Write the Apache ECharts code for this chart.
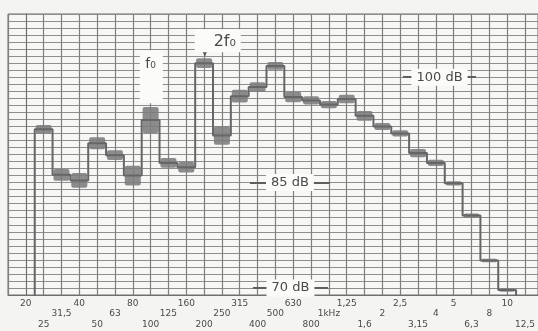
<!DOCTYPE html>
<html><head><meta charset="utf-8">
<script src="https://cdn.jsdelivr.net/npm/echarts@6/dist/echarts.min.js"></script>
<style>html,body{margin:0;padding:0;background:#f4f4f2;} #c{width:538px;height:331px;}</style>
</head><body><div id="c"></div>
<script>
// third-octave bands (index 0 = 20 Hz ... 28 = 12.5 kHz)
const bandLabels = ['20','25','31,5','40','50','63','80','100','125','160','200','250','315','400','500','630','800','1kHz','1,25','1,6','2','2,5','3,15','4','5','6,3','8','10','12,5'];
// recorded level per band (dB); 20 Hz and 12.5 kHz are below the paper
const levels = [60, 92.6, 86.1, 85.3, 90.6, 88.9, 86.0, 93.9, 87.8, 87.2, 102.0, 91.7, 97.3, 98.6, 101.6, 97.2, 96.7, 96.1, 96.9, 94.5, 93.0, 92.0, 89.2, 87.8, 84.9, 80.3, 73.9, 69.7, 60];
// pen fluctuation width per band (dB)
const spread = [0, 1.2, 1.7, 2.1, 1.7, 1.4, 2.8, 3.7, 1.4, 1.5, 1.4, 2.6, 1.8, 1.4, 1.1, 1.5, 1.2, 1.0, 1.2, 1.4, 1.0, 0.9, 1.2, 0.9, 0.6, 0.6, 0.5, 0.5, 0];
// reference level marks
const refLevels = [100, 85, 70];
const refLabels = ['100 dB', '85 dB', '70 dB'];
const refSpan = [[21.16, 25.25], [12.57, 17.06], [12.74, 16.95]];

const yMin = 69, yMax = 109;
const lineData = levels.map((v, i) => [i, v]);
const blobData = levels.map((v, i) => [i, v, spread[i]]);

const chart = echarts.init(document.getElementById('c'), null, {renderer: 'canvas'});
const txt = {fontFamily: 'DejaVu Sans', color: '#4a4a4a'};
chart.setOption({
  animation: false,
  backgroundColor: '#f4f4f2',
  grid: {left: 8, right: 0, top: 14, bottom: 36, show: true, borderColor: '#6f6f6f', borderWidth: 1, backgroundColor: '#f7f7f5'},
  xAxis: {
    type: 'value', min: -1, max: 28.73, interval: 1,
    axisLine: {show: true, lineStyle: {color: '#6f6f6f'}},
    axisTick: {show: false},
    splitLine: {show: true, lineStyle: {color: '#808080', width: 1.2}},
    axisLabel: {
      margin: 4, showMaxLabel: false,
      formatter: function (v) {
        if (v < 0 || v > 28 || v !== Math.round(v)) return '';
        const r = ['t', 'l', 'm'][v % 3];
        return '{' + r + '|' + bandLabels[v] + '}';
      },
      rich: {
        t: Object.assign({fontSize: 9, padding: [0, 0, 0, 0]}, txt),
        m: Object.assign({fontSize: 9, padding: [10, 0, 0, 0]}, txt),
        l: Object.assign({fontSize: 9, padding: [21, 0, 0, 0]}, txt)
      }
    }
  },
  yAxis: {
    type: 'value', min: yMin, max: yMax, interval: 1,
    axisLine: {show: true, lineStyle: {color: '#6f6f6f'}},
    axisTick: {show: false},
    axisLabel: {show: false},
    splitLine: {show: true, lineStyle: {color: '#8e8e8e', width: 1}}
  },
  series: [
    {
      type: 'custom', z: 2, clip: true,
      data: blobData,
      renderItem: function (params, api) {
        const sp = api.value(2);
        if (!sp) return null;
        const i = api.value(0), v = api.value(1);
        const p1 = api.coord([i - 0.45, v + sp / 2]);
        const p2 = api.coord([i + 0.45, v - sp / 2]);
        const shape = echarts.graphic.clipRectByRect(
          {x: p1[0], y: p1[1], width: p2[0] - p1[0], height: p2[1] - p1[1]},
          {x: params.coordSys.x, y: params.coordSys.y, width: params.coordSys.width, height: params.coordSys.height});
        return shape && {type: 'rect', shape: Object.assign(shape, {r: 2}), style: {fill: '#7c7c7c', opacity: 0.88}};
      }
    },
    {
      type: 'line', z: 3, step: 'middle', clip: true, showSymbol: false, symbol: 'none',
      data: lineData,
      lineStyle: {color: '#666', width: 2},
      markLine: {
        silent: true, symbol: 'none', animation: false,
        lineStyle: {color: '#5e5e5e', width: 2, type: 'solid'},
        label: Object.assign({show: true, position: 'middle', distance: 0, verticalAlign: 'middle', fontSize: 13, backgroundColor: '#fbfbfa', padding: [2, 5]}, txt),
        data: refLevels.map((lv, k) => [
          {coord: [refSpan[k][0], lv], label: {formatter: refLabels[k]}},
          {coord: [refSpan[k][1], lv]}
        ])
      }
    },
    {
      type: 'scatter', z: 4, data: [],
      markPoint: {
        silent: true, animation: false,
        data: [
          {coord: [7.04, 100.07], symbol: 'rect', symbolSize: [23, 53], itemStyle: {color: '#fbfbfa'}, label: {show: false}},
          {coord: [10.77, 105.2], symbol: 'rect', symbolSize: [46, 23], itemStyle: {color: '#fbfbfa'}, label: {show: false}},
          {coord: [7.0, 101.85], symbol: 'circle', symbolSize: 1, itemStyle: {color: 'rgba(0,0,0,0)'},
           label: Object.assign({show: true, position: 'inside', formatter: 'f₀', fontSize: 14}, txt)},
          {coord: [11.16, 105.05], symbol: 'circle', symbolSize: 1, itemStyle: {color: 'rgba(0,0,0,0)'},
           label: Object.assign({show: true, position: 'inside', formatter: '2f₀', fontSize: 16}, txt)}
        ]
      }
    },
    {
      type: 'scatter', z: 5, data: [],
      markLine: {
        silent: true, animation: false, symbol: ['none', 'arrow'], symbolSize: 7,
        lineStyle: {color: '#555', width: 1.6, type: 'solid'},
        label: {show: false},
        data: [
          [{coord: [7.0, 99.86]}, {coord: [7.0, 96.73]}],
          [{coord: [10.04, 106.5]}, {coord: [10.04, 103.1]}]
        ]
      }
    }
  ]
});
</script></body></html>
